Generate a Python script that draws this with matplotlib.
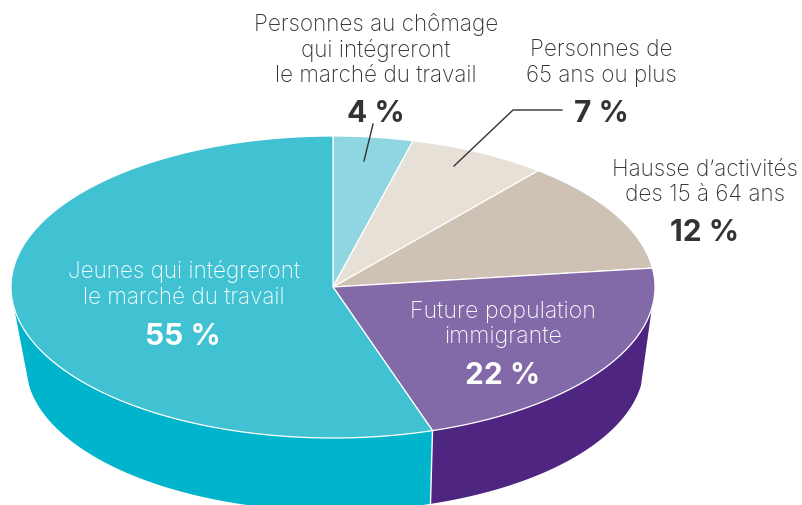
import numpy as np
import matplotlib
matplotlib.use("Agg")
import matplotlib.pyplot as plt

labels = ["Personnes au chômage\nqui intégreront\nle marché du travail", "Personnes de\n65 ans ou plus",
          "Hausse d’activités\ndes 15 à 64 ans", "Future population\nimmigrante",
          "Jeunes qui intégreront\nle marché du travail"]
values = [4, 7, 12, 22, 55]
pct_labels = ["4 %", "7 %", "12 %", "22 %", "55 %"]
top_colors = ["#8FD5E2", "#E6E0D6", "#CDC2B3", "#8269A8", "#40C2D3"]
side_colors = ["#00B5CB", "#00B5CB", "#00B5CB", "#4F2582", "#00B5CB"]

W, H = 802, 506
CX, CY, RX, RY = 333, 288, 322, 151
BCX, BCY, BRX, BRY = 335, 366, 309, 146
WALL_MARGIN = np.radians(8)

plt.rcParams["font.family"] = ["Inter", "DejaVu Sans"]
fig = plt.figure(figsize=(W/100, H/100), dpi=100)
ax = fig.add_axes([0, 0, 1, 1])
ax.set_xlim(0, W); ax.set_ylim(H, 0); ax.axis("off")

def pt(t):
    t = np.asarray(t)
    return CX + RX*np.sin(t), CY - RY*np.cos(t)

def bpt(t):
    t = np.asarray(t)
    return BCX + BRX*np.sin(t), BCY - BRY*np.cos(t)

cum = np.concatenate([[0], np.cumsum(values)]) * 2*np.pi / sum(values)

# side walls
for i in [4, 3]:
    lo, hi = max(cum[i], np.pi/2 + WALL_MARGIN), min(cum[i+1], 3*np.pi/2 - WALL_MARGIN)
    t = np.linspace(lo, hi, 300)
    x, y = pt(t); xb, yb = bpt(t[::-1])
    ax.fill(np.r_[x, xb], np.r_[y, yb], color=side_colors[i], lw=0, zorder=1)
x0, y0 = pt(cum[4]); x1, y1 = bpt(cum[4])
ax.plot([x0, x1], [y0, y1], color="white", lw=1, zorder=1.5)

# top faces
for i in range(5):
    t = np.linspace(cum[i], cum[i+1], 300)
    x, y = pt(t)
    ax.fill(np.r_[CX, x], np.r_[CY, y], facecolor=top_colors[i], edgecolor="white", lw=0.9, zorder=2)

DARK = "#333333"
def txt(x, y, s, size=16.2, color=DARK, **kw):
    ax.text(x, y, s, fontsize=size, color=color, ha="center", va="center", linespacing=1.18, zorder=4, **kw)

txt(376, 50, labels[0], fontweight="light")
txt(601, 63, labels[1], fontweight="light")
txt(705, 182, labels[2], fontweight="light")
txt(503, 324.5, labels[3], size=16.7, color="white", fontweight="light")
txt(184, 284.5, labels[4], color="white", fontweight="light")
for (x, y), s, c in zip([(376, 114), (601, 114), (705, 233), (503, 376), (183, 337)], pct_labels,
                        [DARK, DARK, DARK, "white", "white"]):
    txt(x, y, s, size=21.5, color=c, fontweight="bold")

ax.plot([373, 364], [125, 162], color=DARK, lw=1, zorder=5)
ax.plot([562, 513, 454], [111, 111, 167], color=DARK, lw=1, zorder=5)
fig.savefig("out.png", dpi=100)
